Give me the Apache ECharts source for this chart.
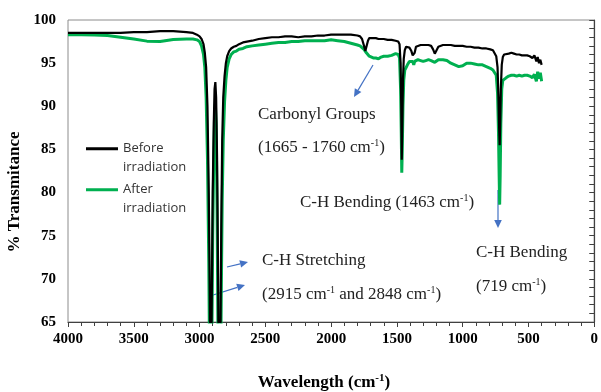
<!DOCTYPE html>
<html><head><meta charset="utf-8">
<script src="https://cdn.jsdelivr.net/npm/echarts@6/dist/echarts.min.js"></script>
<style>html,body{margin:0;padding:0;background:#fff}#c{width:601px;height:392px}</style>
</head><body><div id="c"></div>
<script>
const wavenumbers = [4000,3900,3800,3700,3600,3500,3400,3300,3200,3100,3050,3020,3000,2985,2970,2960,2950,2940,2930,2922,2915,2908,2900,2892,2886,2880,2874,2867,2860,2854,2848,2842,2835,2828,2820,2810,2800,2790,2775,2760,2740,2720,2700,2670,2640,2600,2550,2500,2450,2400,2350,2300,2250,2200,2150,2100,2050,2000,1950,1900,1850,1800,1780,1765,1750,1740,1732,1720,1710,1700,1680,1660,1640,1620,1600,1570,1540,1510,1490,1480,1472,1467,1463,1459,1454,1448,1440,1430,1420,1405,1390,1380,1372,1365,1355,1340,1320,1300,1280,1260,1240,1225,1212,1200,1185,1170,1150,1120,1090,1060,1030,1000,970,940,910,880,850,820,790,770,755,745,735,728,723,719,715,710,703,695,685,670,650,630,610,590,570,550,530,510,490,470,455,440,430,420,410,400];
const beforeValues = [98.5,98.5,98.5,98.5,98.5,98.6,98.6,98.7,98.7,98.6,98.5,98.3,98.1,97.8,97.2,96.2,94.5,90,80,68,50,66,80,88,92,92.8,91,84,72,58,50,62,76,86,91,93.5,95,95.8,96.4,96.7,96.9,97.0,97.2,97.4,97.5,97.6,97.8,97.9,98.0,98.0,98.1,98.1,98.0,98.1,98.1,98.2,98.2,98.3,98.3,98.3,98.3,98.2,98.1,97.8,97.0,96.4,96.6,97.6,97.9,98.0,97.9,97.9,97.8,97.8,97.8,97.7,97.7,97.6,97.5,97.2,95,90,83.8,88,93,95.5,96.5,96.9,97.0,96.8,96.4,95.9,95.7,96.2,96.9,97.1,97.1,97.1,97.1,97.1,97.0,96.6,96.1,96.3,96.9,97.1,97.1,97.1,97.1,97.0,97.0,97.0,96.9,96.9,96.8,96.8,96.7,96.7,96.6,96.5,96.3,95.8,94.5,91,87.5,85.5,88,92,94.8,95.7,96.0,96.1,96.1,96.2,96.1,96.0,96.0,95.9,95.9,95.9,95.8,95.6,95.9,95.2,95.7,95.0,95.4,94.8];
const afterValues = [98.3,98.3,98.25,98.2,98.0,97.8,97.55,97.5,97.75,97.8,97.8,97.7,97.5,97.0,96.0,94.5,91,84,72,58,45,60,75,84,89,90.3,88,78,64,50,45,55,68,79,86,90.5,93,94.5,95.5,96.0,96.3,96.4,96.6,96.7,96.9,97.0,97.1,97.2,97.3,97.4,97.4,97.5,97.5,97.6,97.6,97.6,97.6,97.7,97.6,97.5,97.3,97.1,97.0,96.9,96.6,96.4,96.2,96.0,95.8,95.7,95.6,95.6,95.5,95.7,95.8,95.8,95.9,96.1,96.0,95.6,92,87,82.3,85,90,93,94.2,94.5,94.8,95.2,95.4,95.2,94.8,95.2,95.4,95.4,95.3,95.2,95.3,95.4,95.3,95.2,95.1,95.3,95.4,95.4,95.4,95.3,95.0,94.8,94.6,94.7,95.0,95.0,94.9,94.8,94.8,94.6,94.4,94.2,94.0,93.6,91.5,87,82,78.6,82,88,92,93.0,93.2,93.3,93.5,93.6,93.6,93.5,93.6,93.5,93.6,93.6,93.5,93.3,93.7,92.9,94.0,93.2,93.9,92.9];
const xTicks = [4000,3500,3000,2500,2000,1500,1000,500,0];
const yTicks = [65,70,75,80,85,90,95,100];
const seriesNames = ['Before irradiation','After irradiation'];
const seriesColors = ['#000000','#00B050'];

const serif = '"Liberation Serif", "Times New Roman", serif';
const chart = echarts.init(document.getElementById('c'));
function pairs(vals){ return wavenumbers.map((w,i)=>[w, vals[i]]); }
const blue = '#4472C4';
function arrow(x1,y1,x2,y2){
  const a = Math.atan2(y2-y1,x2-x1), L=8, W=3.8;
  const bx = x2-L*Math.cos(a), by = y2-L*Math.sin(a);
  const px = -Math.sin(a)*W, py = Math.cos(a)*W;
  return [
    {type:'line', shape:{x1:x1,y1:y1,x2:bx,y2:by}, style:{stroke:blue,lineWidth:1.2}},
    {type:'polygon', shape:{points:[[x2,y2],[bx+px,by+py],[bx-px,by-py]]}, style:{fill:blue}}
  ];
}
const rich = {
  n:{fontFamily:serif,fontSize:17,color:'#222',lineHeight:20},
  s:{fontFamily:serif,fontSize:10,color:'#222',lineHeight:10,verticalAlign:'top'}
};
function note(x,y,text){
  return {type:'text', x:x, y:y, style:{text:text, rich:rich, fill:'#222', verticalAlign:'middle', align:'left'}};
}
const minX = Math.min(...xTicks), maxX = Math.max(...xTicks);
const minY = Math.min(...yTicks), maxY = Math.max(...yTicks);
chart.setOption({
  animation:false,
  backgroundColor:'#fff',
  grid:{left:68,right:4,top:20,bottom:70,show:true,borderColor:'#8c8c8c',borderWidth:1,backgroundColor:'transparent'},
  legend:{
    data:seriesNames, orient:'vertical', left:86, top:138.5, padding:0, itemGap:3,
    itemWidth:32, itemHeight:20.5,
    icon:'path://M0,0L32,0L32,3L0,3Z M0,20.5L0.01,20.5L0.01,20.51L0,20.51Z',
    formatter:n=>n.replace(' ','\n'),
    textStyle:{fontFamily:'"Open Sans", sans-serif',fontSize:13,color:'#333',lineHeight:19}
  },
  xAxis:{type:'value',inverse:true,min:minX,max:maxX,interval:500,
    axisLine:{lineStyle:{color:'#404040',width:1.2}},
    axisTick:{show:true,length:5,lineStyle:{color:'#404040'}},
    minorTick:{show:true,splitNumber:5,length:4,lineStyle:{color:'#404040'}},
    splitLine:{show:false},
    axisLabel:{fontFamily:serif,fontWeight:'bold',fontSize:15,color:'#000',margin:10,formatter:v=>String(v)}
  },
  yAxis:{type:'value',min:minY,max:maxY,interval:5,
    axisLine:{show:true,lineStyle:{color:'#404040',width:1.2}},
    axisTick:{show:true,length:5,lineStyle:{color:'#404040'}},
    minorTick:{show:true,splitNumber:5,length:5,lineStyle:{color:'#404040'}},
    splitLine:{show:false},
    axisLabel:{fontFamily:serif,fontWeight:'bold',fontSize:15,color:'#000',margin:12,formatter:v=>String(v)}
  },
  series:[
    {name:seriesNames[1],type:'line',data:pairs(afterValues),showSymbol:false,symbol:'none',
     lineStyle:{color:seriesColors[1],width:3},itemStyle:{color:seriesColors[1]},clip:true,z:2},
    {name:seriesNames[0],type:'line',data:pairs(beforeValues),showSymbol:false,symbol:'none',
     lineStyle:{color:seriesColors[0],width:2.2},itemStyle:{color:seriesColors[0]},clip:true,z:3}
  ],
  graphic:[
    {type:'text', x:15, y:192, rotation:Math.PI/2, style:{text:'% Transmitance', font:'bold 17px '+serif, fill:'#000', align:'center', verticalAlign:'middle'}},
    {type:'text', x:324, y:383, style:{text:'{b|Wavelength (cm}{bs|-1}{b|)}', rich:{
      b:{fontFamily:serif,fontWeight:'bold',fontSize:17,color:'#000',lineHeight:20},
      bs:{fontFamily:serif,fontWeight:'bold',fontSize:11,color:'#000',lineHeight:12,verticalAlign:'top'}}, align:'center', verticalAlign:'middle'}},
    note(258,115,'{n|Carbonyl Groups}'),
    note(258,148,'{n|(1665 - 1760 cm}{s|-1}{n|)}'),
    note(300,203,'{n|C-H Bending (1463 cm}{s|-1}{n|)}'),
    note(262,261,'{n|C-H Stretching}'),
    note(262,295,'{n|(2915 cm}{s|-1}{n| and 2848 cm}{s|-1}{n|)}'),
    note(476,253,'{n|C-H Bending}'),
    note(476,287,'{n|(719 cm}{s|-1}{n|)}'),
    ...arrow(373,65,354,97),
    ...arrow(227,267,248,262),
    ...arrow(210,296,245,285),
    ...arrow(498,190,498,228)
  ]
});
</script></body></html>
